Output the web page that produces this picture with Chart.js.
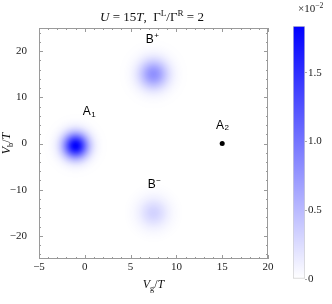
<!DOCTYPE html>
<html>
<head>
<meta charset="utf-8">
<script src="https://cdn.jsdelivr.net/npm/chart.js@4"></script>
<style>
  html, body { margin: 0; padding: 0; background: #fff; }
  #wrap { position: relative; width: 332px; height: 304px; }
  #main { position: absolute; left: 0; top: 0; }
  #bar { position: absolute; left: 285px; top: 0; }
</style>
</head>
<body>
<div id="wrap">
  <canvas id="main" width="285" height="304"></canvas>
  <canvas id="bar" width="47" height="304"></canvas>
</div>
<script>
// peaks of the density map (values in units of 1e-2)
const peakNames = ['A1', 'B+', 'B-'];
const peakX = [-1, 7.5, 7.5];
const peakY = [-0.5, 15, -15];
const peakValue = [1.84, 0.8, 0.32];
const peakSpreadX = [0.95, 1.1, 1.1];
const peakSpreadY = [1.9, 2.2, 2.2];

// isolated point A2
const dotX = [15];
const dotY = [0];

// text labels placed in data coordinates
const labelMain = ['A', 'B', 'A', 'B'];
const labelIdx = ['1', '+', '2', '\u2212'];
const labelSup = [false, true, false, true];
const labelX = [0.2, 7.1, 14.75, 7.3];
const labelY = [6.85, 22.4, 3.95, -9];

// axes
const xTicks = [-5, 0, 5, 10, 15, 20];
const yTicks = [-20, -10, 0, 10, 20];
const cbTicks = [0, 0.5, 1.0, 1.5];
const cMax = 1.84;

const SERIF = "'Liberation Serif', 'DejaVu Serif', serif";
const SANS = "'Liberation Sans', Arial, sans-serif";
Chart.defaults.font.family = SERIF;
Chart.defaults.font.size = 11;
Chart.defaults.color = '#222';

// draws a list of [text, style] pieces starting at x, returns the width
const drawPieces = (ctx, pieces, x, y, size, measureOnly) => {
    let w = 0;
    pieces.forEach(([t, st]) => {
        let fs = size, dy = 0, italic = st.includes('i');
        if (st.includes('sup')) { fs = size * 0.7; dy = -size * 0.4; }
        if (st.includes('sub')) { fs = size * 0.7; dy = size * 0.25; }
        ctx.font = (italic ? 'italic ' : '') + fs + 'px ' + SERIF;
        if (!measureOnly) ctx.fillText(t, x + w, y + dy);
        w += ctx.measureText(t).width;
    });
    return w;
};

const heatPlugin = {
    id: 'heat',
    beforeDatasetsDraw(chart) {
        const { ctx, chartArea: a, scales: { x, y } } = chart;
        ctx.save();
        ctx.beginPath();
        ctx.rect(a.left, a.top, a.width, a.height);
        ctx.clip();
        peakX.forEach((px, i) => {
            const cx = x.getPixelForValue(px);
            const cy = y.getPixelForValue(peakY[i]);
            const sx = Math.abs(x.getPixelForValue(px + peakSpreadX[i]) - cx);
            const sy = Math.abs(y.getPixelForValue(peakY[i] + peakSpreadY[i]) - cy);
            ctx.save();
            ctx.translate(cx, cy);
            ctx.scale(sx, sy);
            const g = ctx.createRadialGradient(0, 0, 0, 0, 0, 4);
            for (let r = 0; r <= 4.001; r += 0.25) {
                const al = peakValue[i] / cMax * Math.exp(-r * r / 2);
                g.addColorStop(r / 4, 'rgba(0,0,255,' + al.toFixed(4) + ')');
            }
            ctx.fillStyle = g;
            ctx.fillRect(-4, -4, 8, 8);
            ctx.restore();
        });
        ctx.restore();
    },
    afterDraw(chart) {
        const { ctx, chartArea: a, scales: { x, y } } = chart;
        ctx.save();
        // frame + inward ticks
        ctx.strokeStyle = '#9a9a9a';
        ctx.lineWidth = 1;
        ctx.strokeRect(a.left + 0.5, a.top + 0.5, a.width - 1, a.height - 1);
        ctx.beginPath();
        for (let v = -5; v <= 20; v += 1) {
            const p = Math.round(x.getPixelForValue(v)) + 0.5;
            const len = v % 5 === 0 ? 4 : 2;
            ctx.moveTo(p, a.bottom); ctx.lineTo(p, a.bottom - len);
            ctx.moveTo(p, a.top); ctx.lineTo(p, a.top + len);
        }
        for (let v = -24; v <= 24; v += 2) {
            const p = Math.round(y.getPixelForValue(v)) + 0.5;
            const len = v % 10 === 0 ? 4 : 2;
            ctx.moveTo(a.left, p); ctx.lineTo(a.left + len, p);
            ctx.moveTo(a.right, p); ctx.lineTo(a.right - len, p);
        }
        ctx.stroke();

        // point labels
        ctx.fillStyle = '#000';
        ctx.textBaseline = 'middle';
        ctx.textAlign = 'center';
        labelMain.forEach((t, i) => {
            const px = x.getPixelForValue(labelX[i]);
            const py = y.getPixelForValue(labelY[i]);
            ctx.font = '12px ' + SANS;
            ctx.fillText(t, px, py);
            const hw = ctx.measureText(t).width / 2;
            ctx.font = '8px ' + SANS;
            ctx.textAlign = 'left';
            ctx.fillText(labelIdx[i], px + hw + 0.5, py + (labelSup[i] ? -4 : 3));
            ctx.textAlign = 'center';
        });

        // title
        ctx.fillStyle = '#111';
        ctx.textAlign = 'left';
        ctx.textBaseline = 'alphabetic';
        const title = [['U', 'i'], [' = 15', ''], ['T', 'i'], [',  \u0393', ''], ['L', 'sup'],
                       ['/\u0393', ''], ['R', 'sup'], [' = 2', '']];
        const tw = drawPieces(ctx, title, 0, 0, 13, true);
        drawPieces(ctx, title, 152 - tw / 2, 21, 13, false);

        // x axis title
        const xt = [['V', 'i'], ['g', 'sub'], ['/', ''], ['T', 'i']];
        const xw = drawPieces(ctx, xt, 0, 0, 12, true);
        drawPieces(ctx, xt, (a.left + a.right) / 2 - xw / 2, 288, 12, false);

        // y axis title
        const yt = [['V', 'i'], ['b', 'sub'], ['/', ''], ['T', 'i']];
        const yw = drawPieces(ctx, yt, 0, 0, 12, true);
        ctx.translate(10, (a.top + a.bottom) / 2);
        ctx.rotate(-Math.PI / 2);
        drawPieces(ctx, yt, -yw / 2, 0, 12, false);
        ctx.restore();
    }
};

new Chart(document.getElementById('main'), {
    type: 'scatter',
    data: {
        datasets: [{
            label: 'A2',
            data: dotX.map((v, i) => ({ x: v, y: dotY[i] })),
            pointRadius: 2.5,
            pointBackgroundColor: '#000',
            pointBorderWidth: 0
        }]
    },
    options: {
        responsive: false,
        animation: false,
        layout: { padding: { left: 0, top: 28, right: 17, bottom: 0 } },
        plugins: { legend: { display: false }, tooltip: { enabled: false } },
        scales: {
            x: {
                type: 'linear', min: -5, max: 20,
                afterBuildTicks: s => { s.ticks = xTicks.map(v => ({ value: v })); },
                afterFit: s => { s.height = 45; },
                grid: { display: false }, border: { display: false },
                ticks: { padding: -6, maxRotation: 0, autoSkip: false,
                         font: { family: SERIF, size: 11 },
                         callback: v => v < 0 ? '\u2212' + Math.abs(v) : String(v) }
            },
            y: {
                type: 'linear', min: -25, max: 25,
                afterBuildTicks: s => { s.ticks = yTicks.map(v => ({ value: v })); },
                afterFit: s => { s.width = 39; },
                grid: { display: false }, border: { display: false },
                ticks: { padding: 4, autoSkip: false,
                         font: { family: SERIF, size: 11 },
                         callback: v => v < 0 ? '\u2212' + Math.abs(v) : String(v) }
            }
        }
    },
    plugins: [heatPlugin]
});

// colour bar
const barTitle = {
    id: 'barTitle',
    afterDraw(chart) {
        const ctx = chart.ctx;
        ctx.save();
        ctx.fillStyle = '#222';
        ctx.textBaseline = 'alphabetic';
        drawPieces(ctx, [['\u00d710', ''], ['\u22122', 'sup']], 13, 12, 11, false);
        ctx.restore();
    }
};

new Chart(document.getElementById('bar'), {
    type: 'bar',
    data: {
        labels: [''],
        datasets: [{
            data: [[0, cMax]],
            backgroundColor: c => {
                const a = c.chart.chartArea;
                if (!a) return 'blue';
                const g = c.chart.ctx.createLinearGradient(0, a.bottom, 0, a.top);
                g.addColorStop(0, 'rgb(255,255,255)');
                g.addColorStop(1, 'rgb(0,0,255)');
                return g;
            },
            borderColor: '#cfcfcf',
            borderWidth: 1,
            borderSkipped: false,
            barPercentage: 1,
            categoryPercentage: 1
        }]
    },
    options: {
        responsive: false,
        animation: false,
        layout: { padding: { left: 8, top: 26, right: 0, bottom: 25 } },
        plugins: { legend: { display: false }, tooltip: { enabled: false } },
        scales: {
            x: { display: false },
            y: {
                position: 'right', min: 0, max: cMax,
                afterBuildTicks: s => { s.ticks = cbTicks.map(v => ({ value: v })); },
                afterFit: s => { s.width = 27; },
                grid: { drawOnChartArea: false, tickLength: 2, color: '#aaa' },
                border: { display: false },
                ticks: { padding: 1, font: { family: SERIF, size: 11 },
                         callback: v => v === 0 ? '0' : v.toFixed(1) }
            }
        }
    },
    plugins: [barTitle]
});
</script>
</body>
</html>
